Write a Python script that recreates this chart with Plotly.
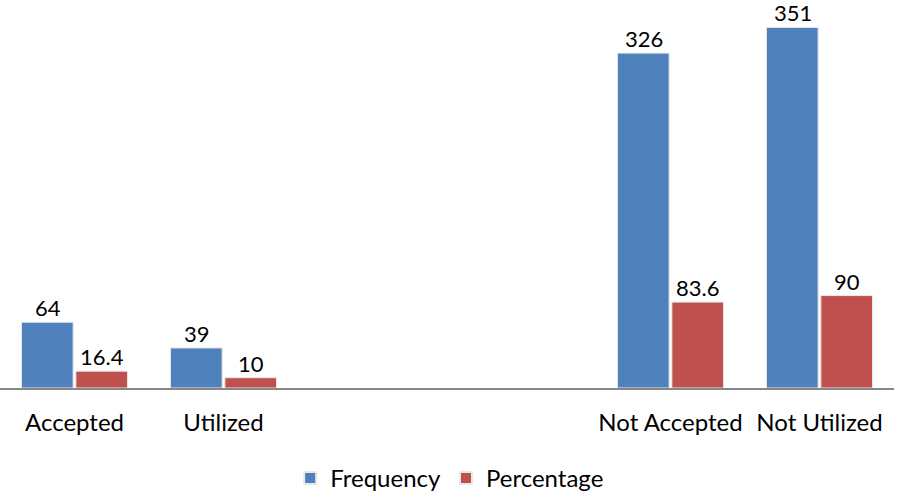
import plotly.graph_objects as go

categories = ["Accepted", "Utilized", " ", "  ", "Not Accepted", "Not Utilized"]
frequency = [64, 39, None, None, 326, 351]
percentage = [16.4, 10, None, None, 83.6, 90]

FONT = "Lato, Carlito, Calibri, 'Open Sans', sans-serif"
FS = 24
LS = 22

fig = go.Figure()
fig.add_trace(go.Bar(
    name="Frequency", x=categories, y=frequency,
    marker=dict(color="#4F81BD", line=dict(color="#E8E8E8", width=1)),
))
fig.add_trace(go.Bar(
    name="Percentage", x=categories, y=percentage,
    marker=dict(color="#C0504D", line=dict(color="#E8E8E8", width=1)),
))

# value labels above each bar
for series, shift in ((frequency, -27), (percentage, 27)):
    for cat, v in zip(categories, series):
        if v is None:
            continue
        fig.add_annotation(
            x=cat, y=v, xref="x", yref="y", text=f"{v:g}", showarrow=False,
            xanchor="center", yanchor="bottom", xshift=shift, yshift=-1,
            font=dict(size=LS, family=FONT, color="#000000"),
        )

fig.update_layout(
    width=898, height=496,
    margin=dict(l=0, r=4, t=0, b=108, autoexpand=False),
    paper_bgcolor="white", plot_bgcolor="white",
    barmode="group", bargap=0.27, bargroupgap=0.05,
    font=dict(family=FONT, size=FS, color="#000000"),
    showlegend=True,
    legend=dict(orientation="h", x=0.503, xanchor="center", y=-0.175, yanchor="top",
                font=dict(size=FS, family=FONT), traceorder="normal",
                itemsizing="constant"),
)
fig.update_xaxes(
    type="category", categoryorder="array", categoryarray=categories,
    range=[-0.5, 5.5], automargin=False,
    showline=True, linecolor="#868686", linewidth=1.5,
    showgrid=False, ticks="", ticklabelstandoff=12,
    tickfont=dict(size=FS, family=FONT, color="#000000"),
    fixedrange=True,
)
fig.update_yaxes(
    range=[0, 377.7], visible=False, showgrid=False, zeroline=False,
    automargin=False, fixedrange=True,
)

fig.write_html("out.html", config={"displayModeBar": False},
               post_script="document.body.style.margin='0';")
